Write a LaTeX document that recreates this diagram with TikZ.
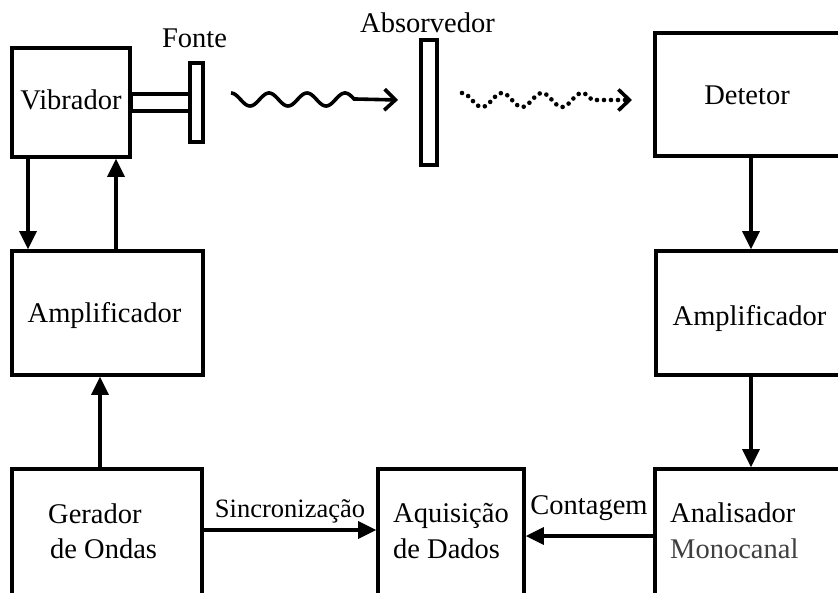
\documentclass[tikz,border=0pt]{standalone}
\usepackage{fontspec}
\setmainfont{Liberation Serif}
\usetikzlibrary{arrows.meta}
\begin{document}
\begin{tikzpicture}[x=1pt,y=-1pt,
  box/.style={draw,line width=3.6pt,rectangle,inner sep=0pt,fill=white},
  thinbox/.style={draw,line width=3.2pt,rectangle,inner sep=0pt,fill=white},
  lbl/.style={anchor=base,inner sep=0pt,font=\fontsize{28.5pt}{34pt}\selectfont},
  lbll/.style={anchor=base west,inner sep=0pt,font=\fontsize{28.5pt}{34pt}\selectfont},
  conn/.style={line width=3.2pt,-{Triangle[length=18pt,width=17pt]}},
  wave/.style={line width=3.6pt,-{Straight Barb[length=11pt,width=21pt,line width=3.6pt]}},
  dotwave/.style={line width=4.6pt,line cap=round,dash pattern=on 0pt off 7pt,
    -{Straight Barb[length=11pt,width=21pt,line width=3.6pt]}},
]
\useasboundingbox (0,0) rectangle (838,592);
\clip (0,0) rectangle (838,592);
\fill[white] (0,0) rectangle (838,592);

% boxes
\node[box,minimum width=118pt,minimum height=109pt] (vib) at (71,102.5) {};
\node[box,minimum width=191pt,minimum height=124pt] (ampL) at (107.5,313) {};
\node[box,minimum width=190pt,minimum height=151pt] (ger) at (107,544.5) {};
\node[box,minimum width=146pt,minimum height=151pt] (aq) at (451,544.5) {};
\node[box,minimum width=205pt,minimum height=151pt] (ana) at (757.5,544.5) {};
\node[box,minimum width=204pt,minimum height=124pt] (ampR) at (758,313) {};
\node[box,minimum width=205pt,minimum height=123pt] (det) at (757.5,94.5) {};

% source (T shape) and absorber
\draw[line width=3.2pt,fill=white] (vib.east |- 0,94) rectangle (190,111);
\node[thinbox,minimum width=13pt,minimum height=79pt] (bar) at (196.5,102.5) {};
\node[thinbox,minimum width=16pt,minimum height=125pt] (abs) at (429,102.5) {};

% texts
\node[lbl] (tfonte) at (194.5,47) {Fonte};
\node[lbl] (tabs) at (427.5,32) {Absorvedor};
\node[lbl] (tvib) at (71,109) {Vibrador};
\node[lbl] (tampL) at (104.5,322) {Amplificador};
\node[lbl] (tdet) at (747,104) {Detetor};
\node[lbl] (tampR) at (749.5,325) {Amplificador};
\node[lbll] (tger1) at (48,523) {Gerador};
\node[lbll] (tger2) at (50,558) {de Ondas};
\node[lbll] (taq1) at (393,522) {Aquisição};
\node[lbll] (taq2) at (393,558) {de Dados};
\node[lbll] (tana1) at (670,522) {Analisador};
\node[lbll,text=black!75] (tana2) at (670,558) {Monocanal};
\node[lbl,font=\fontsize{26.5pt}{30pt}\selectfont] (tsin) at (290,517) {Sincronização};
\node[lbl] (tcont) at (589,514) {Contagem};

% connector positions
\coordinate (xa) at (28,0);
\coordinate (xb) at (116,0);
\coordinate (xc) at (100,0);
\coordinate (xd) at (751,0);
\coordinate (ys) at (0,530);
\coordinate (yc) at (0,536);

\draw[conn] (vib.south -| xa) -- (ampL.north -| xa);
\draw[conn] (ampL.north -| xb) -- (vib.south -| xb);
\draw[conn] (ger.north -| xc) -- (ampL.south -| xc);
\draw[conn] (det.south -| xd) -- (ampR.north -| xd);
\draw[conn] (ampR.south -| xd) -- (ana.north -| xd);
\draw[conn] (ger.east |- ys) -- (aq.west |- ys);
\draw[conn] (ana.west |- yc) -- (aq.east |- yc);

% waves
\coordinate (w1e) at (398,100);
\coordinate (w2e) at (632,100);
\draw[wave] plot[domain=231:354,samples=90,smooth] (\x,{99.5-6.5*cos((\x-231)/38*360)}) -- (w1e);
\draw[dotwave] plot[domain=462:592,samples=90,smooth] (\x,{100-7*cos((\x-462)/40*360)}) -- (w2e);
\end{tikzpicture}
\end{document}
